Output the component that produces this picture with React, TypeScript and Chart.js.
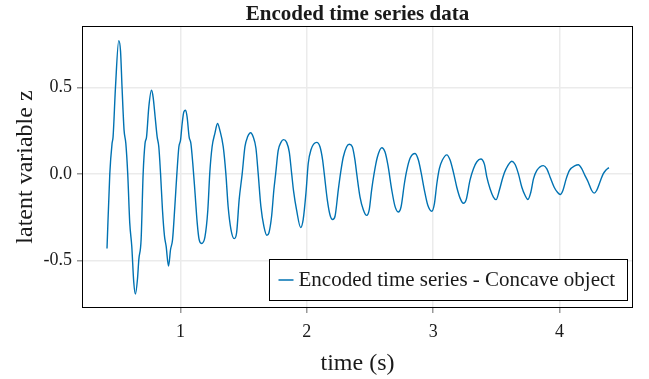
import React, { useEffect, useRef } from "react";
import { Chart, registerables } from "chart.js";

Chart.register(...registerables);

const TITLE = "Encoded time series data";
const X_LABEL = "time (s)";
const Y_LABEL = "latent variable z";
const SERIES_LABEL = "Encoded time series - Concave object";
const X_TICKS = [1, 2, 3, 4];
const Y_TICKS = [-0.5, 0, 0.5];
const X_RANGE = [0.22, 4.582];
const Y_RANGE = [-0.775, 0.854];

const TIME = [
  0.418, 0.44, 0.458, 0.466, 0.485, 0.511, 0.525, 0.537, 0.553, 0.567, 0.582, 0.598, 0.614, 0.63, 0.643,
  0.659, 0.67, 0.688, 0.704, 0.719, 0.731, 0.749, 0.77, 0.783, 0.799, 0.815, 0.828, 0.842, 0.857, 0.873,
  0.886, 0.905, 0.921, 0.937, 0.955, 0.971, 0.987, 1.0, 1.013, 1.026, 1.04, 1.052, 1.068, 1.082, 1.097,
  1.113, 1.132, 1.147, 1.166, 1.193, 1.216, 1.232, 1.25, 1.272, 1.293, 1.311, 1.338, 1.359, 1.377, 1.399,
  1.425, 1.444, 1.464, 1.488, 1.51, 1.531, 1.555, 1.575, 1.597, 1.615, 1.636, 1.66, 1.684, 1.7, 1.721,
  1.739, 1.753, 1.773, 1.795, 1.816, 1.84, 1.861, 1.88, 1.895, 1.919, 1.951, 1.971, 1.993, 2.011, 2.032,
  2.078, 2.104, 2.125, 2.138, 2.162, 2.183, 2.204, 2.223, 2.249, 2.268, 2.288, 2.315, 2.336, 2.36, 2.381,
  2.395, 2.421, 2.447, 2.474, 2.494, 2.513, 2.532, 2.558, 2.593, 2.619, 2.642, 2.672, 2.698, 2.724, 2.746,
  2.772, 2.791, 2.817, 2.857, 2.883, 2.904, 2.93, 2.957, 2.989, 3.01, 3.029, 3.049, 3.073, 3.108, 3.134,
  3.16, 3.187, 3.213, 3.239, 3.261, 3.292, 3.319, 3.346, 3.377, 3.406, 3.425, 3.451, 3.477, 3.498, 3.525,
  3.552, 3.578, 3.623, 3.649, 3.675, 3.702, 3.728, 3.75, 3.773, 3.794, 3.821, 3.873, 3.9, 3.926, 3.958,
  3.984, 4.006, 4.027, 4.053, 4.079, 4.124, 4.15, 4.176, 4.202, 4.228, 4.255, 4.275, 4.294, 4.325, 4.346,
  4.365, 4.391,
];

const Z = [
  -0.431, 0.0, 0.176, 0.214, 0.5, 0.77, 0.71, 0.5, 0.253, 0.176, 0.0, -0.283, -0.418, -0.628, -0.695,
  -0.609, -0.494, -0.379, 0.0, 0.176, 0.214, 0.387, 0.483, 0.444, 0.329, 0.214, 0.157, 0.0, -0.207, -0.36,
  -0.418, -0.533, -0.437, -0.379, -0.188, 0.0, 0.157, 0.195, 0.291, 0.358, 0.368, 0.329, 0.214, 0.176, 0.061,
  -0.092, -0.283, -0.379, -0.402, -0.365, -0.21, 0.01, 0.157, 0.234, 0.291, 0.253, 0.157, 0.0, -0.19, -0.32,
  -0.374, -0.34, -0.15, 0.0, 0.157, 0.214, 0.238, 0.214, 0.148, 0.0, -0.188, -0.303, -0.355, -0.34, -0.245,
  -0.092, 0.0, 0.134, 0.182, 0.198, 0.182, 0.126, 0.0, -0.1, -0.21, -0.31, -0.264, -0.11, 0.06, 0.138,
  0.182, 0.157, 0.08, 0.0, -0.15, -0.236, -0.264, -0.245, -0.092, 0.01, 0.096, 0.157, 0.171, 0.157, 0.08,
  0.0, -0.134, -0.207, -0.24, -0.207, -0.092, 0.0, 0.096, 0.151, 0.126, 0.05, -0.092, -0.188, -0.22, -0.19,
  -0.057, 0.02, 0.09, 0.118, 0.08, 0.01, -0.092, -0.18, -0.216, -0.172, -0.057, 0.03, 0.08, 0.11, 0.08,
  0.01, -0.077, -0.14, -0.17, -0.15, -0.035, 0.03, 0.07, 0.086, 0.055, -0.019, -0.087, -0.134, -0.149, -0.092,
  -0.019, 0.03, 0.073, 0.054, 0.0, -0.077, -0.125, -0.148, -0.106, -0.029, 0.02, 0.048, 0.029, -0.019, -0.077,
  -0.106, -0.119, -0.096, -0.029, 0.02, 0.048, 0.053, 0.03, -0.01, -0.048, -0.096, -0.111, -0.096, -0.038, 0.0,
  0.02, 0.036,
];

const FONT = '"Liberation Serif", "Times New Roman", serif';
const LINE_COLOR = "rgb(0,114,178)";
const TEXT_COLOR = "#1a1a1a";

const framePlugin = {
  id: "frameAndLegend",
  afterDatasetsDraw(chart: any) {
    const { ctx, chartArea: a } = chart;
    ctx.save();
    ctx.strokeStyle = "#000";
    ctx.lineWidth = 1;
    const l = Math.round(a.left) + 0.5;
    const t = Math.round(a.top) + 0.5;
    const r = Math.round(a.right) - 0.5;
    const b = Math.round(a.bottom) - 0.5;
    ctx.strokeRect(l, t, r - l, b - t);

    // legend box (bottom-right inside plot)
    const ds = chart.data.datasets[0];
    ctx.font = `21px ${FONT}`;
    const tw = ctx.measureText(ds.label).width;
    const boxW = Math.round(29 + tw + 12);
    const boxH = 41;
    const bx = Math.round(a.right - 6 - boxW) + 0.5;
    const by = Math.round(a.bottom - 8 - boxH) + 0.5;
    ctx.fillStyle = "#fff";
    ctx.fillRect(bx, by, boxW, boxH);
    ctx.strokeStyle = "#000";
    ctx.lineWidth = 1;
    ctx.strokeRect(bx, by, boxW, boxH);
    const cy = by + boxH / 2;
    ctx.strokeStyle = LINE_COLOR;
    ctx.lineWidth = 1.5;
    ctx.beginPath();
    ctx.moveTo(bx + 9, cy);
    ctx.lineTo(bx + 24, cy);
    ctx.stroke();
    ctx.fillStyle = TEXT_COLOR;
    ctx.textBaseline = "middle";
    ctx.textAlign = "left";
    ctx.fillText(ds.label, bx + 29, cy);
    ctx.restore();
  },
};

export default function App() {
  const ref = useRef<HTMLCanvasElement | null>(null);

  useEffect(() => {
    if (!ref.current) return;
    const chart = new Chart(ref.current, {
      type: "line",
      data: {
        datasets: [
          {
            label: SERIES_LABEL,
            data: TIME.map((t, i) => ({ x: t, y: Z[i] })),
            borderColor: LINE_COLOR,
            borderWidth: 1.4,
            pointRadius: 0,
            fill: false,
            cubicInterpolationMode: "monotone",
          },
        ],
      },
      options: {
        animation: false,
        responsive: false,
        devicePixelRatio: 1,
        layout: { padding: { left: 0, right: 16, top: 0, bottom: 0 } },
        plugins: {
          legend: { display: false },
          tooltip: { enabled: false },
          title: {
            display: true,
            text: TITLE,
            fullSize: false,
            color: TEXT_COLOR,
            font: { family: FONT, size: 21, weight: "bold", lineHeight: 1.1 },
            padding: { top: 3, bottom: 0 },
          },
        },
        scales: {
          x: {
            type: "linear",
            min: X_RANGE[0],
            max: X_RANGE[1],
            afterBuildTicks: (s: any) => {
              s.ticks = X_TICKS.map((v) => ({ value: v }));
            },
            afterFit: (s: any) => {
              s.height = 71;
            },
            grid: { color: "#ebebeb", lineWidth: 1.5, tickColor: "#999", tickLength: 5 },
            border: { display: false },
            ticks: {
              color: TEXT_COLOR,
              font: { family: FONT, size: 18 },
              padding: 8,
              maxRotation: 0,
              autoSkip: false,
              callback: (v: any) => String(v),
            },
            title: {
              display: true,
              text: X_LABEL,
              color: TEXT_COLOR,
              font: { family: FONT, size: 24, lineHeight: 1.2 },
              padding: { top: 0, bottom: 1 },
            },
          },
          y: {
            type: "linear",
            min: Y_RANGE[0],
            max: Y_RANGE[1],
            afterBuildTicks: (s: any) => {
              s.ticks = Y_TICKS.map((v) => ({ value: v }));
            },
            afterFit: (s: any) => {
              s.width = 82;
            },
            grid: { color: "#ebebeb", lineWidth: 1.5, tickColor: "#999", tickLength: 5 },
            border: { display: false },
            ticks: {
              color: TEXT_COLOR,
              font: { family: FONT, size: 18 },
              padding: 5,
              autoSkip: false,
              callback: (v: any) => Number(v).toFixed(1),
            },
            title: {
              display: true,
              text: Y_LABEL,
              color: TEXT_COLOR,
              font: { family: FONT, size: 24, lineHeight: 1.2 },
              padding: { top: 11, bottom: 0 },
            },
          },
        },
      },
      plugins: [framePlugin],
    } as any);
    return () => chart.destroy();
  }, []);

  return (
    <div style={{ position: "fixed", left: 0, top: 0, width: 649, height: 379, background: "#fff" }}>
      <canvas ref={ref} width={649} height={379} style={{ display: "block", width: 649, height: 379 }} />
    </div>
  );
}
